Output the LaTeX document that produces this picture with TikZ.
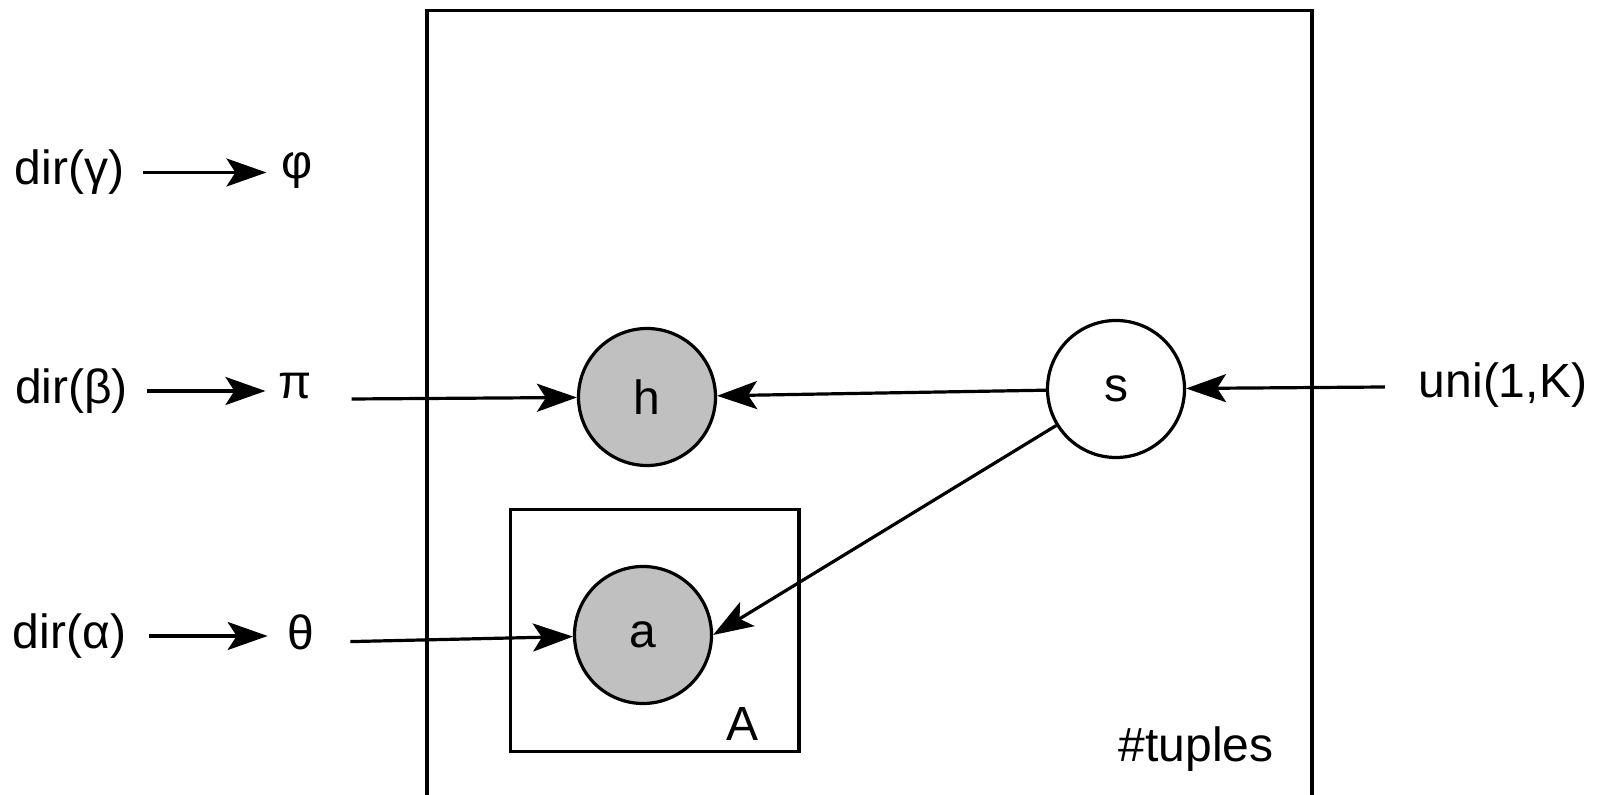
\documentclass[tikz,border=0pt]{standalone}
\usepackage{fontspec}
\setmainfont{Liberation Sans}
\usetikzlibrary{arrows.meta}
\definecolor{obsgray}{RGB}{192,192,192}
\begin{document}
\begin{tikzpicture}[x=0.5pt,y=-0.5pt,
  lbl/.style={font=\fontsize{24}{28}\selectfont, inner sep=0pt, outer sep=0pt},
  var/.style={circle, draw, line width=1.6pt, minimum size=68.5pt, inner sep=0pt, font=\fontsize{24}{28}\selectfont},
  obs/.style={var, fill=obsgray},
  arr/.style={line width=1.6pt, -{Stealth[length=20pt,width=14pt,inset=4.5pt]}},
  plate/.style={draw, line width=1.6pt}]
\useasboundingbox (0,0) rectangle (1602,795);
\clip (0,0) rectangle (1602,795);
% plates
\draw[plate] (427,10.5) rectangle (1312,840);
\draw[plate] (510.7,509.3) rectangle (799,751.7);
\node[lbl] (tuples) at (1196,749) {\#tuples};
\node[lbl] (platea) at (742,724) {A};
% left labels
\node[lbl] (dirg) at (69.5,172.5) {dir(γ)};
\node[lbl] (phi) at (297,171) {φ};
\node[lbl] (dirb) at (71.5,391) {dir(β)};
\node[lbl] (pi) at (295,386) {π};
\node[lbl] (dira) at (69.5,636) {dir(α)};
\node[lbl] (theta) at (301,632) {θ};
\node[lbl] (uni) at (1503,385) {uni(1,K)};
% variables
\node[obs] (h) at (647,397) {h};
\node[var] (s) at (1116,389) {s};
\node[obs] (a) at (643,635) {a};
% connectors
\draw[arr, shorten >=7.5pt] ([xshift=9.5pt]dirg.east) -- (phi.west |- dirg.east);
\draw[arr, shorten >=6.5pt] ([xshift=9.5pt]dirb.east) -- (pi.west |- dirb.east);
\draw[arr, shorten >=10pt] ([xshift=11.5pt]dira.east) -- (theta.west |- dira.east);
\draw[arr] ([xshift=20pt,yshift=-6.5pt]pi.east) -- (h);
\draw[arr] ([xshift=18pt,yshift=-4.8pt]theta.east) -- (a);
\draw[arr] (s) -- (h);
\draw[arr] (s) -- (a.east);
\draw[arr] ([xshift=-17pt,yshift=-1pt]uni.west) -- (s);
\end{tikzpicture}
\end{document}
